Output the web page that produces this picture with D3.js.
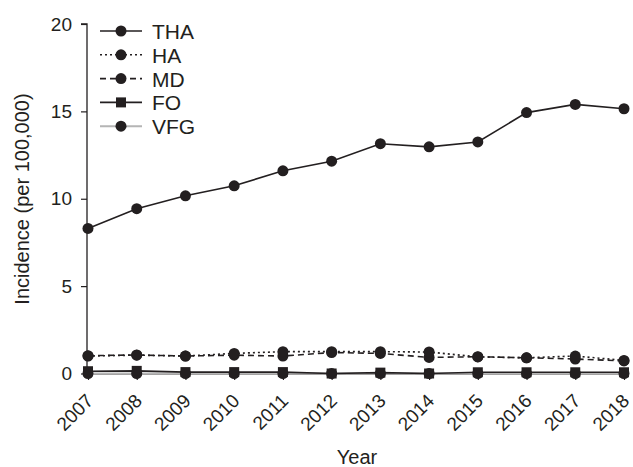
<!DOCTYPE html>
<html><head><meta charset="utf-8">
<script src="https://cdn.jsdelivr.net/npm/d3@7"></script>
<style>body{margin:0;background:#fff}svg{display:block}text{font-family:"Liberation Sans",Arial,sans-serif;fill:#231f20}</style>
</head><body><svg id="c" width="633" height="467"></svg>
<script>
const years = [2007,2008,2009,2010,2011,2012,2013,2014,2015,2016,2017,2018];
const THA = [8.3,9.43,10.17,10.74,11.6,12.15,13.15,12.97,13.25,14.93,15.4,15.15];
const HA  = [1.0,1.05,1.0,1.15,1.25,1.25,1.25,1.23,0.95,0.9,1.0,0.75];
const MD  = [1.02,1.06,1.0,1.05,1.0,1.2,1.15,0.92,0.96,0.9,0.83,0.72];
const FO  = [0.13,0.15,0.08,0.08,0.08,0.0,0.05,0.0,0.07,0.07,0.07,0.07];
const VFG = [0.0,0.0,0.0,0.0,0.0,0.0,0.0,0.0,0.0,0.0,0.0,0.0];
const yTicks = [0,5,10,15,20];
const seriesNames = ["THA","HA","MD","FO","VFG"];
const seriesData = [THA,HA,MD,FO,VFG];
const styles = {
  THA:{stroke:"#231f20",dash:null,marker:"circle"},
  HA:{stroke:"#231f20",dash:"2,3",marker:"circle"},
  MD:{stroke:"#231f20",dash:"6,4",marker:"circle"},
  FO:{stroke:"#231f20",dash:null,marker:"square"},
  VFG:{stroke:"#b5b5b5",dash:null,marker:"circle"}
};
const svg = d3.select("#c");
const x = d3.scaleLinear().domain([2007,2018]).range([88,624]);
const y = d3.scaleLinear().domain([0,20]).range([373.5,24]);
const ink = "#231f20";
const FF = "Liberation Sans, Arial, sans-serif";

// axes
const ya = svg.append("g").attr("transform","translate(87,0)")
  .call(d3.axisLeft(y).tickValues(yTicks).tickSize(6).tickPadding(9).tickFormat(d3.format("d")));
ya.select(".domain").attr("stroke",ink).attr("stroke-width",1.3).attr("d","M-6,24H0V373.5");
ya.selectAll(".tick line").attr("stroke",ink).attr("stroke-width",1.2);
ya.selectAll(".tick text").attr("font-size",19).attr("fill",ink).attr("font-family",FF);

const xa = svg.append("g").attr("transform","translate(0,374)")
  .call(d3.axisBottom(x).tickValues(years).tickSize(6).tickFormat(d3.format("d")));
xa.select(".domain").attr("stroke",ink).attr("stroke-width",1.2).attr("d","M88,0H624");
xa.selectAll(".tick line").attr("stroke",ink).attr("stroke-width",1.2);
xa.selectAll(".tick text").attr("font-size",19).attr("fill",ink).attr("font-family",FF)
  .attr("text-anchor","end").attr("dy",null).attr("y",0)
  .attr("transform","translate(6,28) rotate(-45)");

svg.append("text").attr("x",357).attr("y",464).attr("text-anchor","middle").attr("font-size",20).text("Year");
svg.append("text").attr("transform","translate(29,199) rotate(-90)").attr("text-anchor","middle").attr("font-size",20).text("Incidence (per 100,000)");

// series (draw VFG first, then others)
const order = ["VFG","FO","MD","HA","THA"];
const line = d3.line().x((d,i)=>x(years[i])).y(d=>y(d));
order.forEach(name=>{
  const data = seriesData[seriesNames.indexOf(name)];
  const st = styles[name];
  const g = svg.append("g");
  g.append("path").datum(data).attr("d",line).attr("fill","none")
    .attr("stroke",st.stroke).attr("stroke-width",name==="VFG"?2:1.6)
    .attr("stroke-dasharray",st.dash);
  if(st.marker==="circle"){
    g.selectAll("circle").data(data).join("circle")
      .attr("cx",(d,i)=>x(years[i])).attr("cy",d=>y(d)).attr("r",5.5).attr("fill",ink);
  } else {
    g.selectAll("rect").data(data).join("rect")
      .attr("x",(d,i)=>x(years[i])-5).attr("y",d=>y(d)-5).attr("width",10).attr("height",10).attr("fill",ink);
  }
});

// legend
const leg = svg.append("g");
seriesNames.forEach((name,i)=>{
  const st = styles[name];
  const yy = 31 + i*23.8;
  leg.append("line").attr("x1",100).attr("x2",142).attr("y1",yy).attr("y2",yy)
    .attr("stroke",st.stroke).attr("stroke-width",name==="VFG"?2:1.6).attr("stroke-dasharray",st.dash);
  if(st.marker==="circle") leg.append("circle").attr("cx",121).attr("cy",yy).attr("r",5.5).attr("fill",ink);
  else leg.append("rect").attr("x",116).attr("y",yy-5).attr("width",10).attr("height",10).attr("fill",ink);
  leg.append("text").attr("x",152).attr("y",yy+8).attr("font-size",21).text(name);
});
</script></body></html>
